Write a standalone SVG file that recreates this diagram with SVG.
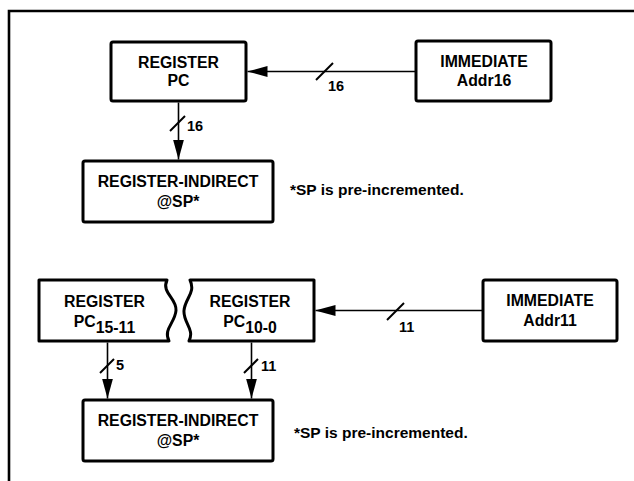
<svg xmlns="http://www.w3.org/2000/svg" width="634" height="481" viewBox="0 0 634 481">
<style>
  .box{fill:#fff;stroke:#000;stroke-width:3;stroke-linejoin:round}
  .frame{fill:none;stroke:#000;stroke-width:2.6}
  .wire{fill:none;stroke:#000;stroke-width:1.6}
  .slash{fill:none;stroke:#000;stroke-width:2}
  text{font-family:"Liberation Sans",Arial,Helvetica,sans-serif;font-weight:bold;fill:#000}
  .t{font-size:15.8px;text-anchor:middle}
  .lbl{font-size:14.5px}
  .note{font-size:15.5px}
</style>
<defs>
  <marker id="ah" markerUnits="userSpaceOnUse" markerWidth="20" markerHeight="11" refX="20" refY="5.5" orient="auto">
    <path d="M0,0 L20,5.5 L0,11 Z" fill="#000"/>
  </marker>
</defs>
<rect width="634" height="481" fill="#fff"/>
<g id="frame">
  <path class="frame" d="M9,481 V11 H634"/>
</g>
<g id="connectors">
  <line class="wire" x1="416" y1="71.5" x2="247.5" y2="71.5" marker-end="url(#ah)"/>
  <line class="slash" x1="316" y1="80" x2="333" y2="63"/>
  <text class="lbl" x="328" y="91">16</text>
  <line class="wire" x1="178.5" y1="102.5" x2="178.5" y2="159.5" marker-end="url(#ah)"/>
  <line class="slash" x1="170" y1="131" x2="185" y2="116"/>
  <text class="lbl" x="187" y="131">16</text>
  <line class="wire" x1="483" y1="310.5" x2="315.5" y2="310.5" marker-end="url(#ah)"/>
  <line class="slash" x1="387" y1="320" x2="404" y2="303"/>
  <text class="lbl" x="399" y="332">11</text>
  <line class="wire" x1="107.5" y1="342.5" x2="107.5" y2="398.5" marker-end="url(#ah)"/>
  <line class="slash" x1="100" y1="373" x2="114" y2="359"/>
  <text class="lbl" x="116" y="370">5</text>
  <line class="wire" x1="251.5" y1="342.5" x2="251.5" y2="398.5" marker-end="url(#ah)"/>
  <line class="slash" x1="244" y1="373" x2="258" y2="359"/>
  <text class="lbl" x="261" y="371">11</text>
</g>
<g id="regPC">
  <rect class="box" x="111" y="42" width="135" height="59" rx="2"/>
  <text class="t" x="178.5" y="67.5">REGISTER</text>
  <text class="t" x="178.5" y="86">PC</text>
</g>
<g id="immAddr16">
  <rect class="box" x="416" y="41" width="135" height="60" rx="2"/>
  <text class="t" x="484" y="67">IMMEDIATE</text>
  <text class="t" x="484" y="86">Addr16</text>
</g>
<g id="regInd1">
  <rect class="box" x="83" y="161" width="190" height="61" rx="2"/>
  <text class="t" x="178" y="187">REGISTER-INDIRECT</text>
  <text class="t" x="178" y="207">@SP*</text>
  <text class="note" x="290" y="195">*SP is pre-incremented.</text>
</g>
<g id="regPC15">
  <path class="box" d="M39,280 H167 C161,293 177,298 176,310.5 C175,323 163,329 169,341 H39 Z"/>
  <text class="t" x="104.5" y="307">REGISTER</text>
  <text class="t" x="104.5" y="327">PC<tspan dy="6">15-11</tspan></text>
</g>
<g id="regPC10">
  <path class="box" d="M190,280 H314 V341 H189 C195,329 183,323 184,310.5 C185,298 196,293 190,280 Z"/>
  <text class="t" x="250" y="307">REGISTER</text>
  <text class="t" x="250" y="327">PC<tspan dy="6">10-0</tspan></text>
</g>
<g id="immAddr11">
  <rect class="box" x="483" y="280" width="134" height="61" rx="2"/>
  <text class="t" x="550" y="306">IMMEDIATE</text>
  <text class="t" x="550" y="325.5">Addr11</text>
</g>
<g id="regInd2">
  <rect class="box" x="83" y="400" width="190" height="61" rx="2"/>
  <text class="t" x="178" y="425.5">REGISTER-INDIRECT</text>
  <text class="t" x="178" y="445.5">@SP*</text>
  <text class="note" x="294" y="438">*SP is pre-incremented.</text>
</g>
</svg>
